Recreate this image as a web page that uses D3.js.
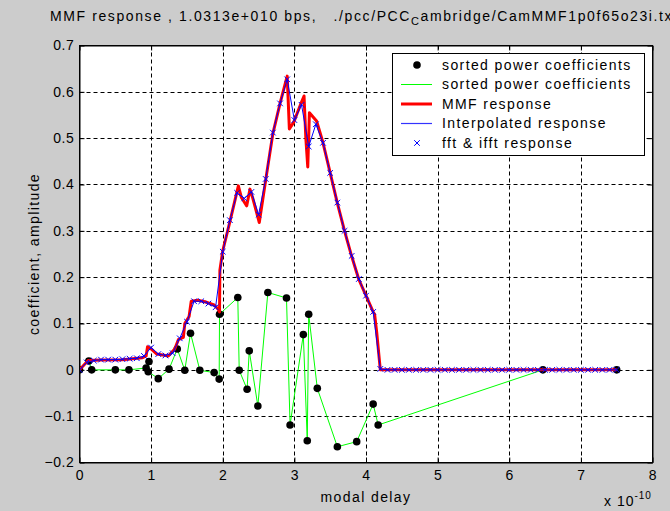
<!DOCTYPE html>
<html><head><meta charset="utf-8">
<script src="https://cdn.jsdelivr.net/npm/d3@7"></script>
<style>body{margin:0;background:#cccccc;overflow:hidden}svg{display:block}text{font-family:"Liberation Sans",Arial,sans-serif}</style>
</head><body>
<script>
// ---- data (x in units of 1e-10) ----
const xTicks = [0,1,2,3,4,5,6,7,8];
const yTicks = [-0.2,-0.1,0,0.1,0.2,0.3,0.4,0.5,0.6,0.7];

// sorted power coefficients (black dots + green line)
const coefX = [0,0.13,0.17,0.50,0.69,0.93,0.97,0.96,1.10,1.25,1.365,1.47,1.55,1.68,1.88,1.95,1.955,2.21,2.23,2.34,2.37,2.49,2.63,2.89,2.94,3.125,3.18,3.20,3.32,3.60,3.87,4.10,4.17,6.47,7.50];
const coefY = [0,0.019,0.0,0.0,0.0,0.004,0.018,-0.004,-0.019,0.0015,0.045,-0.001,0.079,-0.001,-0.006,-0.020,0.120,0.156,-0.001,-0.042,0.041,-0.078,0.167,0.155,-0.119,0.076,-0.153,0.120,-0.040,-0.166,-0.155,-0.074,-0.119,0.0,0.0];

// MMF response (red)
const mmfX = [0,0.12,0.3,0.6,0.88,0.93,0.95,1.0,1.08,1.24,1.33,1.38,1.45,1.47,1.53,1.56,1.65,1.75,1.88,1.94,1.955,1.96,2.0,2.1,2.218,2.26,2.335,2.38,2.42,2.51,2.6,2.7,2.8,2.90,2.93,2.99,3.10,3.135,3.16,3.187,3.21,3.31,3.4,3.5,3.6,3.7,3.8,3.9,4.0,4.1,4.12,4.15,4.2,7.5];
const mmfY = [0,0.02,0.021,0.022,0.026,0.030,0.050,0.045,0.034,0.030,0.045,0.065,0.070,0.100,0.115,0.148,0.150,0.147,0.140,0.130,0.125,0.215,0.257,0.320,0.397,0.372,0.354,0.390,0.370,0.318,0.410,0.510,0.575,0.634,0.520,0.534,0.578,0.591,0.500,0.438,0.555,0.537,0.490,0.425,0.360,0.300,0.245,0.195,0.160,0.125,0.120,0.080,0.0,0];

// fft & ifft response (blue x markers) and interpolated response (blue line)
const fftX = [0,0.1,0.2,0.3,0.4,0.5,0.6,0.7,0.8,0.9,1.0,1.1,1.2,1.3,1.4,1.5,1.6,1.7,1.8,1.9,2.0,2.1,2.2,2.3,2.4,2.5,2.6,2.7,2.8,2.9,3.0,3.1,3.2,3.3,3.4,3.5,3.6,3.7,3.8,3.9,4.0,4.1,4.2,4.3,4.4,4.5,4.6,4.7,4.8,4.9,5.0,5.1,5.2,5.3,5.4,5.5,5.6,5.7,5.8,5.9,6.0,6.1,6.2,6.3,6.4,6.5,6.6,6.7,6.8,6.9,7.0,7.1,7.2,7.3,7.4,7.5];
const fftY = [0,0.016,0.020,0.022,0.022,0.022,0.023,0.024,0.025,0.030,0.048,0.034,0.031,0.036,0.068,0.104,0.148,0.148,0.143,0.135,0.255,0.323,0.382,0.370,0.384,0.335,0.412,0.512,0.575,0.627,0.539,0.572,0.482,0.530,0.490,0.425,0.361,0.300,0.246,0.196,0.160,0.125,0.002,0,0,0,0,0,0,0,0,0,0,0,0,0,0,0,0,0,0,0,0,0,0,0,0,0,0,0,0,0,0,0,0,0];

const legendLabels = ["sorted power coefficients","sorted power coefficients","MMF response","Interpolated response","fft & ifft response"];

// ---- layout ----
const W = 670, H = 511;
const L = 79.5, R = 652.5, T = 45.5, B = 462.5;
const FS = 14, LS = 1.4;
const svg = d3.select("body").append("svg").attr("width", W).attr("height", H);
svg.append("rect").attr("width", W).attr("height", H).attr("fill", "#cccccc");

const x = d3.scaleLinear().domain([0, 8]).range([L, R]);
const y = d3.scaleLinear().domain([-0.2, 0.7]).range([B, T]);

svg.append("rect").attr("x", L).attr("y", T).attr("width", R - L).attr("height", B - T).attr("fill", "#fff");

const defs = svg.append("defs");
defs.append("clipPath").attr("id", "clip").append("rect").attr("x", L).attr("y", T).attr("width", R - L).attr("height", B - T);

// grid
const grid = svg.append("g").attr("stroke", "#000").attr("stroke-width", 1).attr("stroke-dasharray", "4,3");
xTicks.slice(1, -1).forEach(t => grid.append("line").attr("x1", Math.round(x(t)) + 0.5).attr("x2", Math.round(x(t)) + 0.5).attr("y1", T).attr("y2", B));
yTicks.slice(1, -1).forEach(t => grid.append("line").attr("y1", Math.round(y(t)) + 0.5).attr("y2", Math.round(y(t)) + 0.5).attr("x1", L).attr("x2", R));

// axes
const fmt = d => d3.format("")(+d.toFixed(1));
const axB = svg.append("g").attr("transform", `translate(0,${B})`).call(d3.axisBottom(x).tickValues(xTicks).tickSizeInner(-5).tickSizeOuter(0).tickPadding(8).tickFormat(d3.format("d")));
const axT = svg.append("g").attr("transform", `translate(0,${T})`).call(d3.axisTop(x).tickValues(xTicks).tickSizeInner(-5).tickSizeOuter(0).tickFormat(""));
const axL = svg.append("g").attr("transform", `translate(${L},0)`).call(d3.axisLeft(y).tickValues(yTicks).tickSizeInner(-5).tickSizeOuter(0).tickPadding(5).tickFormat(fmt));
const axR = svg.append("g").attr("transform", `translate(${R},0)`).call(d3.axisRight(y).tickValues(yTicks).tickSizeInner(-5).tickSizeOuter(0).tickFormat(""));
[axB, axT, axL, axR].forEach(g => {
  g.select(".domain").attr("stroke", "#000");
  g.selectAll("text").attr("font-size", FS).attr("letter-spacing", 0.6).attr("fill", "#000").attr("font-family", "Liberation Sans, Arial, sans-serif");
});

const plot = svg.append("g").attr("clip-path", "url(#clip)");
const coef = coefX.map((d, i) => [d, coefY[i]]);
const mmf = mmfX.map((d, i) => [d, mmfY[i]]);
const fft = fftX.map((d, i) => [d, fftY[i]]);
const line = d3.line().x(d => x(d[0])).y(d => y(d[1]));

plot.append("path").attr("d", line(coef)).attr("fill", "none").attr("stroke", "#00ff00").attr("stroke-width", 1);
plot.selectAll(".dot").data(coef).enter().append("circle").attr("cx", d => x(d[0])).attr("cy", d => y(d[1])).attr("r", 3.8).attr("fill", "#000");
plot.append("path").attr("d", line(mmf)).attr("fill", "none").attr("stroke", "#ff0000").attr("stroke-width", 3).attr("stroke-linejoin", "round");
plot.append("path").attr("d", line(fft)).attr("fill", "none").attr("stroke", "#0000ff").attr("stroke-width", 1);
const xm = 2.8;
const xmarks = plot.append("g").attr("stroke", "#0000ff").attr("stroke-width", 1);
fft.forEach(d => {
  const cx = x(d[0]), cy = y(d[1]);
  xmarks.append("path").attr("d", `M${cx - xm},${cy - xm}L${cx + xm},${cy + xm}M${cx - xm},${cy + xm}L${cx + xm},${cy - xm}`);
});

// border
svg.append("rect").attr("x", L).attr("y", T).attr("width", R - L).attr("height", B - T).attr("fill", "none").attr("stroke", "#000");

// legend
const lg = svg.append("g");
lg.append("rect").attr("x", 392.5).attr("y", 53.5).attr("width", 252).attr("height", 102).attr("fill", "#fff").attr("stroke", "#000");
const rows = [65, 84.5, 104, 123.5, 143];
legendLabels.forEach((t, i) => {
  lg.append("text").attr("x", 442).attr("y", rows[i]).attr("dy", "0.35em").attr("font-size", FS).attr("letter-spacing", LS).text(t);
});
lg.append("circle").attr("cx", 417).attr("cy", rows[0]).attr("r", 3.8).attr("fill", "#000");
lg.append("line").attr("x1", 401).attr("x2", 432).attr("y1", rows[1]).attr("y2", rows[1]).attr("stroke", "#00ff00");
lg.append("line").attr("x1", 401).attr("x2", 432).attr("y1", rows[2]).attr("y2", rows[2]).attr("stroke", "#ff0000").attr("stroke-width", 3);
lg.append("line").attr("x1", 401).attr("x2", 432).attr("y1", rows[3]).attr("y2", rows[3]).attr("stroke", "#3333ff").attr("stroke-width", 1.2);
lg.append("path").attr("d", `M${417 - xm},${rows[4] - xm}L${417 + xm},${rows[4] + xm}M${417 - xm},${rows[4] + xm}L${417 + xm},${rows[4] - xm}`).attr("stroke", "#0000ff");

// title
const title = svg.append("text").attr("x", 50).attr("y", 21).attr("font-size", FS).attr("letter-spacing", 1.6).attr("xml:space", "preserve");
title.append("tspan").text("MMF response , 1.0313e+010 bps,   ./pcc/PCC");
title.append("tspan").attr("font-size", 11).attr("dy", 4).text("C");
title.append("tspan").attr("dy", -4).text("ambridge/CamMMF1p0f65o23i.txt");

// axis labels
svg.append("text").attr("x", (L + R) / 2).attr("y", 502).attr("text-anchor", "middle").attr("font-size", FS).attr("letter-spacing", LS).text("modal delay");
svg.append("text").attr("transform", `translate(39,${(T + B) / 2}) rotate(-90)`).attr("text-anchor", "middle").attr("font-size", FS).attr("letter-spacing", LS).text("coefficient, amplitude");
const ex = svg.append("text").attr("x", 604).attr("y", 506).attr("font-size", FS).attr("letter-spacing", 1);
ex.append("tspan").text("x 10");
ex.append("tspan").attr("font-size", 10).attr("dy", -7).text("-10");
</script>
</body></html>
